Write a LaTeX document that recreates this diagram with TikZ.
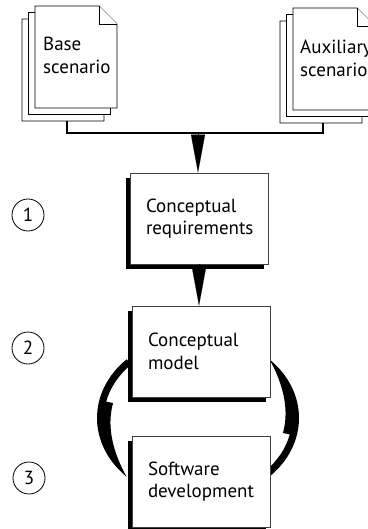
\documentclass[tikz,border=0pt]{standalone}
\usepackage{fontspec}
\setmainfont{PT Sans}
\usetikzlibrary{arrows.meta,calc,shadows,backgrounds}
\hyphenpenalty=10000
\tikzset{
	stage/.style={draw=black!75,line width=0.8pt,fill=white,minimum width=138pt,minimum height=91pt,
		text width=106pt,inner xsep=16pt,align=left,
		drop shadow={shadow xshift=-4pt,shadow yshift=-5pt,opacity=1,fill=black}},
	stepnum/.style={circle,draw,line width=0.8pt,minimum size=32pt,inner sep=0pt},
	page/.style={draw,fill=white,line width=0.9pt},
	link/.style={line width=2pt},
	flowtip/.style={-{Triangle[length=38pt,width=14pt]},line width=0.1pt},
}
\begin{document}
\begin{tikzpicture}[x=1pt,y=-1pt,font=\fontsize{19}{22.5}\selectfont,
		declare function={s(\t)=(192.5-\t)/57.5; hd(\t)=14*(1-0.5*s(\t)*s(\t)*(1+s(\t)));}]
	\useasboundingbox (0,0) rectangle (367,529);
	% scenario stacks
	\foreach \px/\py in {35/6,293/8}{
		\foreach \d in {13,6.5,0}{
			\filldraw[page] ({\px-\d},{\py+\d}) -- ++(64,0) -- ++(18,18) -- ++(0,84) -- ++(-82,0) -- cycle;
			\draw[page] ({\px-\d+64},{\py+\d}) -- ++(0,18) -- ++(18,0);
		}
	}
	\node[anchor=north west,align=left,inner sep=0pt] (base) at (43,37) {Base\\scenario};
	\node[anchor=north west,align=left,inner sep=0pt] (aux) at (300,40) {Auxiliary\\scenario};
	\coordinate (basebot) at (67,121);
	\coordinate (auxbot) at (323,123);
	\coordinate (j) at (198,133);
	\draw[link] (basebot) |- (j) -| (auxbot);
	% stages
	\node[stage] (cr) at (199,218.5) {Conceptual\\requirements};
	\node[stage] (cm) at (201,351.5) {Conceptual\\model};
	\node[stage] (sd) at (201,481.5) {Software\\development};
	\node[stepnum] (n1) at (28,215) {1};
	\node[stepnum] (n2) at (28,348) {2};
	\node[stepnum] (n3) at (29,478) {3};
	\draw[flowtip] (j) -- (j |- cr.north);
	\draw[flowtip] (cr.south) -- (cr.south |- cm.north);
	% loop between model and software
	\coordinate (loop) at ($(cm.south)!0.5!(sd.north)+(-3,1.5)$);
	\begin{scope}[on background layer,shift={(loop)}]
		\foreach \r in {0,180}
			\fill[rotate=\r] (225:101 and 83) arc[start angle=225,end angle=135,x radius=101,y radius=83]
				-- plot[domain=135:192.5,samples=40] ({(101-hd(\x))*cos(\x)},{(83-hd(\x))*sin(\x)})
				-- (192.5:94 and 76) arc[start angle=192.5,end angle=225,x radius=94,y radius=76] -- cycle;
	\end{scope}
\end{tikzpicture}
\end{document}
